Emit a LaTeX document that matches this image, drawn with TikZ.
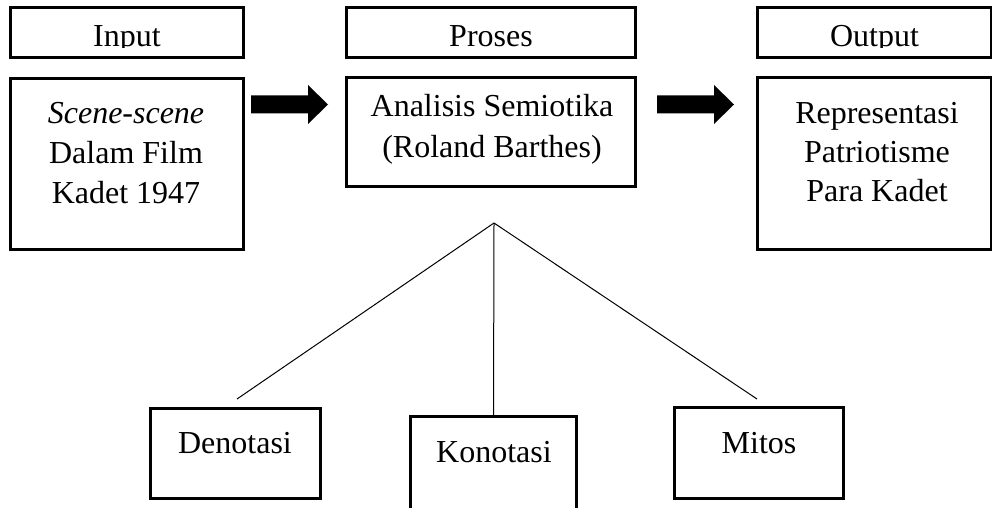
\documentclass[tikz,border=0pt]{standalone}
\usepackage{fontspec}
\setmainfont{Liberation Serif}
\usetikzlibrary{calc}
\begin{document}
\begin{tikzpicture}[x=1pt,y=-1pt,
  box/.style={draw, line width=2.6pt, rectangle, inner sep=0pt, outer sep=0pt},
  txt/.style={anchor=base, inner sep=0pt, font=\fontsize{32}{39}\selectfont},
  blockarrow/.style={fill=black},
  link/.style={line width=1pt}]
\useasboundingbox (0,0) rectangle (992,508);
% header boxes
\node[box, minimum width=233pt, minimum height=50pt] (inH) at (127,32.5) {};
\node[box, minimum width=289pt, minimum height=50pt] (prH) at (491,32.5) {};
\node[box, minimum width=234pt, minimum height=50pt] (outH) at (874.5,32.5) {};
% main boxes
\node[box, minimum width=233pt, minimum height=171pt] (inB) at (127,164) {};
\node[box, minimum width=289pt, minimum height=109pt] (prB) at (491,132) {};
\node[box, minimum width=234pt, minimum height=172pt] (outB) at (874.5,163.5) {};
% bottom boxes
\node[box, minimum width=170pt, minimum height=90pt] (den) at (235.5,453.5) {};
\node[box, minimum width=166pt, minimum height=103pt] (kon) at (493.5,468) {};
\node[box, minimum width=169pt, minimum height=91pt] (mit) at (759,453) {};
% header texts (clipped at baseline as in the original)
\begin{scope}
\clip (0,0) rectangle (992,47.5);
\node[txt] (tIn) at (127,47) {Input};
\node[txt] (tPr) at (491,47) {Proses};
\node[txt] (tOut) at (874.5,47) {Output};
\end{scope}
% box texts
\node[txt] (s1) at (126,123) {\itshape Scene-scene};
\node[txt] (s2) at (126,163) {Dalam Film};
\node[txt] (s3) at (126,203) {Kadet 1947};
\node[txt] (a1) at (492,117) {Analisis Semiotika};
\node[txt] (a2) at (492,157) {(Roland Barthes)};
\node[txt] (r1) at (877,123) {Representasi};
\node[txt] (r2) at (877,162) {Patriotisme};
\node[txt] (r3) at (877,201) {Para Kadet};
\node[txt] (tDen) at (235,453) {Denotasi};
\node[txt] (tKon) at (494,462) {Konotasi};
\node[txt] (tMit) at (759,453) {Mitos};
% block arrows
\coordinate (arr1) at (251,105);
\coordinate (arr2) at (657,105);
\foreach \a in {arr1,arr2}{
  \fill[blockarrow] ($(\a)+(0,-9.5)$) -- ++(57,0) -- ++(0,-10.5) -- ++(20,19.5)
    -- ++(-20,19.5) -- ++(0,-10.5) -- ++(-57,0) -- cycle;
}
% tree lines
\coordinate (apex) at (494,223);
\coordinate (denEnd) at (237,399);
\coordinate (mitEnd) at (757,399);
\draw[link] (apex) -- (denEnd);
\draw[link] (apex) -- (mitEnd);
\draw[link] (apex) -- (kon.north);
\end{tikzpicture}
\end{document}
